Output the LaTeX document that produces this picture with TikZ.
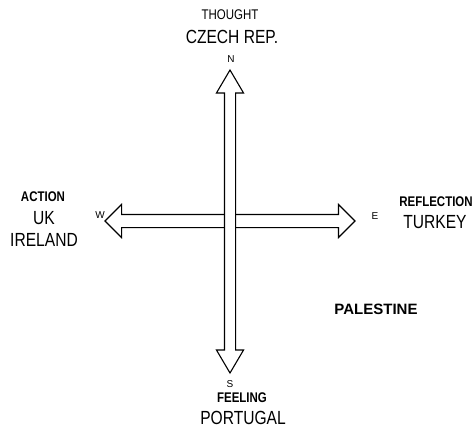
\documentclass[tikz,border=0pt]{standalone}
\usepackage{fontspec}
\setmainfont{Liberation Sans}
\usetikzlibrary{shapes.arrows,positioning}
\newcommand{\narrow}[1]{\scalebox{0.82}[1]{#1}}

\begin{document}
\begin{tikzpicture}[
      x=1pt,y=-1pt,
      axis/.style={draw,double arrow,line width=1.1pt,fill=white,
                   inner xsep=0pt},
      compass/.style={font=\fontsize{10}{11}\selectfont},
      mode/.style={font=\fontsize{14}{15}\selectfont},
      modebold/.style={font=\bfseries\fontsize{14}{15}\selectfont},
      country/.style={font=\fontsize{19}{22}\selectfont,align=center},
    ]
    \useasboundingbox (0,0) rectangle (476,428);

    % Axes (the vertical one lies on top)
    \node[axis,inner ysep=6pt,minimum height=250pt,minimum width=32pt,
          double arrow head extend=10pt] (we) at (230,221) {};
    \node[axis,rotate=90,inner ysep=5pt,minimum height=303pt,
          minimum width=26pt,double arrow head extend=8pt,
          double arrow tip angle=61] (ns) at (230,221.5) {};

    % Compass points
    \node[compass] (n) at (231,59)  {N};
    \node[compass] (s) at (230,384) {S};
    \node[compass] (w) at (100,215) {W};
    \node[compass] (e) at (375,216) {E};

    % North
    \node[country] (czech) at (232,37) {\narrow{CZECH REP.}};
    \node[mode] (thought) at (230,15) {\narrow{THOUGHT}};

    % West
    \node[country] (ukie) at (44,229) {\narrow{UK}\\\narrow{IRELAND}};
    \node[modebold] (action) at (43,197) {\narrow{ACTION}};

    % East
    \node[country] (turkey) at (435,222) {\narrow{TURKEY}};
    \node[modebold] (reflection) at (436,202) {\narrow{REFLECTION}};

    % South
    \node[modebold] (feeling) at (242,398) {\narrow{FEELING}};
    \node[country] (portugal) at (243,418) {\narrow{PORTUGAL}};

    \node[font=\bfseries\fontsize{15}{16}\selectfont] (palestine)
          at (376,309) {PALESTINE};

  \end{tikzpicture}
\end{document}
